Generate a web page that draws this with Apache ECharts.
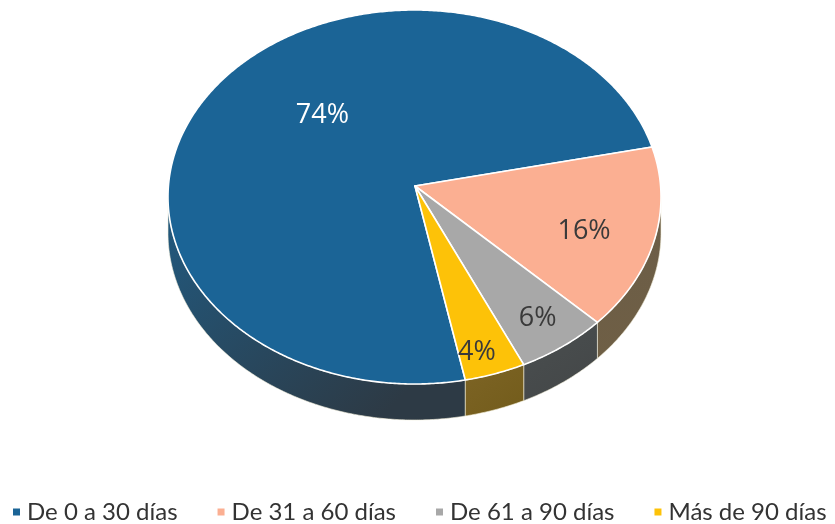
<!DOCTYPE html>
<html>
<head>
<meta charset="utf-8">
<style>
  html, body { margin: 0; padding: 0; background: #fff; }
  #chart { width: 835px; height: 524px; }
</style>
<script src="https://cdn.jsdelivr.net/npm/echarts@6/dist/echarts.min.js"></script>
</head>
<body>
<div id="chart"></div>
<script>
var categories = ['De 0 a 30 días', 'De 31 a 60 días', 'De 61 a 90 días', 'Más de 90 días'];
var values = [74, 16, 6, 4];
var tickLabels = ['74%', '16%', '6%', '4%'];

var topColors = ['#1b6496', '#fbaf92', '#a8a8a8', '#fdc208'];
var sideColors = [
    ['#215a80', '#2d3a45'],
    ['#6b5d48', '#6f5f45'],
    ['#4a4f50', '#444748'],
    ['#7d6425', '#745d1c']
];
var labelColors = ['#ffffff', '#3a3a3a', '#3a3a3a', '#3a3a3a'];

// ellipse of the pie top, the apex sits above its centre because of the perspective
var cx = 414.5, cy = 197, rx = 246.5, ry = 187;
var apexX = 415, apexY = 186, depth = 36;
var startAngle = 78.1;   // where the first slice starts, going clockwise on screen
var labelRadius = [0.585, 0.71, 0.81, 0.86];
var labelTurn = [19, 1, -1, 2];

var total = 0;
values.forEach(function (v) { total += v; });

var onEllipse = function (deg, dy) {
    var t = deg * Math.PI / 180;
    return [cx + rx * Math.cos(t), cy + ry * Math.sin(t) + (dy || 0)];
};

var arcPoints = function (from, to, dy) {
    var pts = [];
    var n = Math.max(2, Math.ceil(Math.abs(to - from) * 2));
    for (var i = 0; i <= n; i++) {
        pts.push(onEllipse(from + (to - from) * i / n, dy));
    }
    return pts;
};

var sliceStart = function (index) {
    var sum = 0;
    for (var i = 0; i < index; i++) sum += values[i];
    return startAngle + sum / total * 360;
};

var renderSlice = function (index) {
    return function (params, api) {
        var from = sliceStart(index);
        var to = from + api.value(0) / total * 360;
        var children = [];

        // visible front wall: the part of the arc that lies between 0 and 180 deg
        [0, 360].forEach(function (turn) {
            var a = Math.max(from - turn, 0), b = Math.min(to - turn, 180);
            if (b <= a) return;
            var top = arcPoints(a, b, 0);
            var bottom = arcPoints(b, a, depth);
            children.push({
                type: 'polygon',
                shape: { points: top.concat(bottom) },
                style: {
                    fill: new echarts.graphic.LinearGradient(0, 0, 0.7, 1, [
                        { offset: 0, color: sideColors[index][0] },
                        { offset: 1, color: sideColors[index][1] }
                    ]),
                    stroke: '#f4f0dc',
                    lineWidth: 0.6
                }
            });
        });

        children.push({
            type: 'polygon',
            shape: { points: [[apexX, apexY]].concat(arcPoints(from, to, 0)) },
            style: { fill: topColors[index], stroke: '#ffffff', lineWidth: 1.6, lineJoin: 'round' }
        });

        var mid = onEllipse((from + to) / 2 + labelTurn[index]);
        children.push({
            type: 'text',
            style: {
                x: cx + (mid[0] - cx) * labelRadius[index],
                y: cy + (mid[1] - cy) * labelRadius[index] + 2,
                text: tickLabels[index],
                fill: labelColors[index],
                font: '27px "Open Sans"',
                align: 'center',
                verticalAlign: 'middle'
            }
        });
        return { type: 'group', children: children };
    };
};

var seriesList = categories.map(function (name, i) {
    return {
        type: 'custom',
        name: name,
        coordinateSystem: 'none',
        renderItem: renderSlice(i),
        itemStyle: { color: topColors[i] },
        data: [[values[i]]],
        silent: true,
        z: i === 0 ? 2 : 3
    };
});

var myChart = echarts.init(document.getElementById('chart'), null, { renderer: 'canvas' });
myChart.setOption({
    animation: false,
    backgroundColor: '#ffffff',
    legend: {
        data: categories,
        left: 13,
        top: 500,
        padding: 0,
        icon: 'rect',
        itemWidth: 7,
        itemHeight: 7,
        itemGap: 40,
        selectedMode: false,
        textStyle: { fontFamily: 'Lato', fontSize: 24, color: '#333333', padding: [0, 0, 0, 2] }
    },
    series: seriesList
});
</script>
</body>
</html>
